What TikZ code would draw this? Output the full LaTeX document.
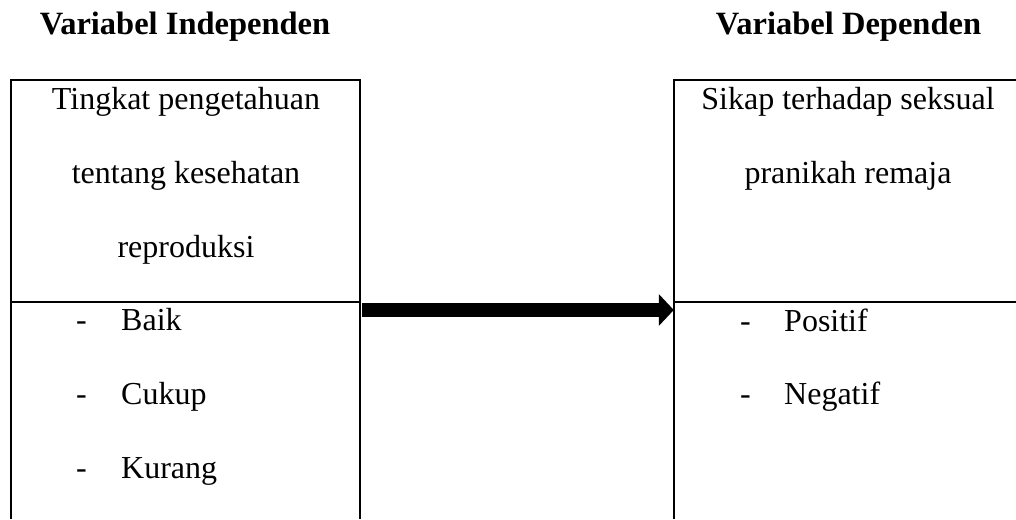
\documentclass[tikz,border=0pt]{standalone}
\usepackage{fontspec}
\setmainfont{Liberation Serif}
\usetikzlibrary{arrows.meta}
\tikzset{
  txt/.style={font=\fontsize{32}{38}\selectfont, inner sep=0pt, anchor=base},
  itemtxt/.style={txt, anchor=base west},
  head/.style={txt, font=\fontsize{32.5}{38}\selectfont\bfseries},
  boxarea/.style={draw=none, inner sep=0pt, minimum width=349pt, minimum height=439pt},
  border/.style={line width=2.2pt, black},
  bigarrow/.style={line width=14pt, -{Triangle[length=15pt,width=31pt]}, shorten <=2pt}
}
\begin{document}
\begin{tikzpicture}[x=1pt,y=-1pt]
\useasboundingbox (0,0) rectangle (1016,519);
% box areas
\node[boxarea] (L) at (185.5,299.5) {};
\node[boxarea] (R) at (848.5,299.5) {};
% borders (open at the bottom)
\draw[border] (L.south west) |- (L.north east) -- (L.south east);
\draw[border] (R.south west) |- (R.north east) -- (R.south east);
\draw[border] (L.west |- 0,302) -- (L.east |- 0,302);
\draw[border] (R.west |- 0,302) -- (R.east |- 0,302);
% headings
\node[head] (hL) at (185,35) {Variabel Independen};
\node[head] (hR) at (848.5,35) {Variabel Dependen};
% left box text
\node[txt] (l1) at (186,109) {Tingkat pengetahuan};
\node[txt] (l2) at (186,183) {tentang kesehatan};
\node[txt] (l3) at (186,257) {reproduksi};
\node[itemtxt] (d1) at (76,330) {-};
\node[itemtxt] (i1) at (121,330) {Baik};
\node[itemtxt] (d2) at (76,404) {-};
\node[itemtxt] (i2) at (121,404) {Cukup};
\node[itemtxt] (d3) at (76,478) {-};
\node[itemtxt] (i3) at (121,478) {Kurang};
% right box text
\node[txt] (r1) at (848,109) {Sikap terhadap seksual};
\node[txt] (r2) at (848,183) {pranikah remaja};
\node[itemtxt] (e1) at (740,331) {-};
\node[itemtxt] (j1) at (784,331) {Positif};
\node[itemtxt] (e2) at (740,404) {-};
\node[itemtxt] (j2) at (784,404) {Negatif};
% arrow
\draw[bigarrow] (L.east |- 0,310) -- (R.west |- 0,310);
\end{tikzpicture}
\end{document}
